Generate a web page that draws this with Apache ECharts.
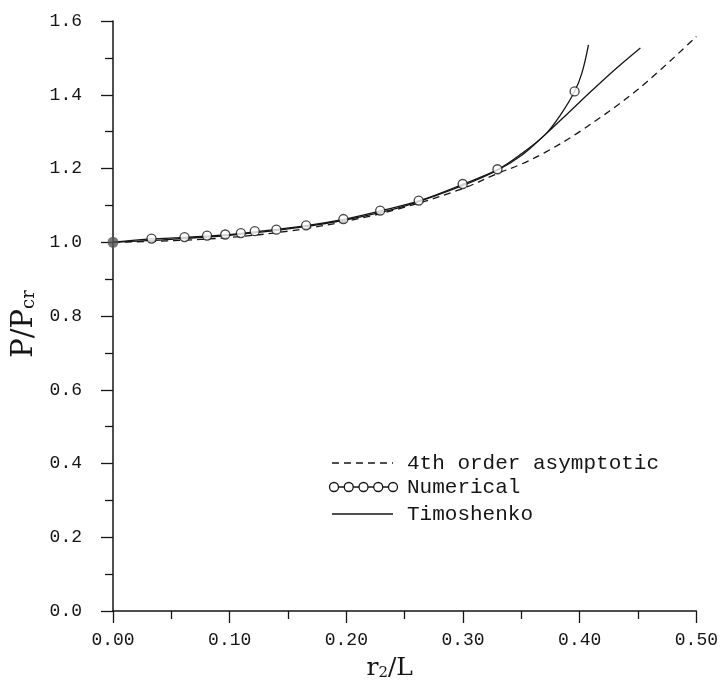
<!DOCTYPE html>
<html>
<head>
<meta charset="utf-8">
<script src="https://cdn.jsdelivr.net/npm/echarts@6/dist/echarts.min.js"></script>
<style>
  html, body { margin: 0; padding: 0; background: #fff; }
  #chart { width: 721px; height: 686px; }
</style>
</head>
<body>
<div id="chart"></div>
<script>
// Critical load ratio P/Pcr against r2/L

// 4th order asymptotic solution (dashed)
const asymX = [0, 0.05, 0.10, 0.15, 0.20, 0.25, 0.30, 0.33, 0.35, 0.37, 0.40, 0.45, 0.50];
const asymY = [1.000, 1.004, 1.013, 1.030, 1.057, 1.095, 1.146, 1.187, 1.212, 1.243, 1.300, 1.415, 1.558];

// Timoshenko solution (solid)
const timoX = [0, 0.05, 0.10, 0.15, 0.20, 0.25, 0.30, 0.33, 0.35, 0.3706, 0.39, 0.41, 0.43, 0.452];
const timoY = [1.000, 1.008, 1.019, 1.036, 1.061, 1.098, 1.154, 1.196, 1.235, 1.2925, 1.350, 1.410, 1.468, 1.527];

// Numerical solution: curve and computed points
const numCurveX = [0, 0.033, 0.0613, 0.0962, 0.1215, 0.1655, 0.1975, 0.229, 0.262, 0.2997, 0.3295, 0.35, 0.3706, 0.3834, 0.3956, 0.402, 0.4075];
const numCurveY = [1.000, 1.009, 1.013, 1.020, 1.028, 1.045, 1.062, 1.085, 1.112, 1.157, 1.197, 1.240, 1.2925, 1.345, 1.409, 1.460, 1.535];
const numPtX = [0.033, 0.0613, 0.0806, 0.0962, 0.1096, 0.1215, 0.140, 0.1655, 0.1975, 0.229, 0.262, 0.2997, 0.3295, 0.3956];
const numPtY = [1.010, 1.014, 1.018, 1.021, 1.025, 1.030, 1.034, 1.046, 1.063, 1.086, 1.113, 1.158, 1.198, 1.409];

// Starting point
const startX = [0];
const startY = [1.0];

// Axis ticks
const xTicks = { min: 0, max: 0.5, step: 0.1 };
const yTicks = { min: 0, max: 1.6, step: 0.2 };

const legendLabels = ['4th order asymptotic', 'Numerical', 'Timoshenko'];

const zip = (xs, ys) => xs.map((x, i) => [x, ys[i]]);

const INK = '#151515';
const MONO = '"Liberation Mono", "DejaVu Sans Mono", monospace';
const SERIF = '"DejaVu Serif", "Liberation Serif", serif';

const chart = echarts.init(document.getElementById('chart'), null, { renderer: 'canvas' });

const axisCommon = {
  axisLine: { show: true, onZero: false, lineStyle: { color: INK, width: 1.5 } },
  axisTick: { show: true, inside: false, length: 12, lineStyle: { color: INK, width: 1.3 } },
  minorTick: { show: true, splitNumber: 2, length: 8, lineStyle: { color: INK, width: 1.3 } },
  splitLine: { show: false },
  minorSplitLine: { show: false }
};

// Legend built from graphic primitives: sample line + label per row
const legendX0 = 332, legendX1 = 393, legendTextX = 407;
const legendRows = [463, 487, 514];
const legendGraphics = [];
legendGraphics.push({
  type: 'line', shape: { x1: legendX0, y1: legendRows[0], x2: legendX1, y2: legendRows[0] },
  style: { stroke: INK, lineWidth: 1.3, lineDash: [7, 5] }
});
legendGraphics.push({
  type: 'line', shape: { x1: legendX0, y1: legendRows[1], x2: legendX1, y2: legendRows[1] },
  style: { stroke: INK, lineWidth: 1.3 }
});
for (let k = 0; k < 5; k++) {
  legendGraphics.push({
    type: 'circle', shape: { cx: legendX0 + 2 + k * (legendX1 - legendX0 - 2) / 4, cy: legendRows[1], r: 4.5 },
    style: { fill: '#fff', stroke: INK, lineWidth: 1.3 }
  });
}
legendGraphics.push({
  type: 'line', shape: { x1: legendX0, y1: legendRows[2], x2: legendX1, y2: legendRows[2] },
  style: { stroke: INK, lineWidth: 1.3 }
});
legendLabels.forEach((t, i) => {
  legendGraphics.push({
    type: 'text', x: legendTextX, y: legendRows[i],
    style: { text: t, font: '21px ' + MONO, fill: INK, textVerticalAlign: 'middle', textAlign: 'left' }
  });
});

const lineCommon = { type: 'line', smooth: 0.35, showSymbol: false, symbol: 'none' };

const option = {
  backgroundColor: '#fff',
  animation: false,
  grid: { left: 113, right: 21, top: 21, bottom: 72, containLabel: false },
  xAxis: Object.assign({
    type: 'value',
    min: xTicks.min, max: xTicks.max, interval: xTicks.step,
    name: '{n|r}{s|2}{n|/L}',
    nameLocation: 'middle',
    nameGap: 40,
    nameTextStyle: {
      padding: [0, 30, 0, 0],
      rich: {
        n: { fontFamily: SERIF, fontSize: 25, color: INK, lineHeight: 30, verticalAlign: 'bottom' },
        s: { fontFamily: SERIF, fontSize: 15, color: INK, lineHeight: 19, verticalAlign: 'bottom' }
      }
    },
    axisLabel: {
      margin: 20, fontFamily: MONO, fontSize: 18, color: INK,
      formatter: v => v.toFixed(2)
    }
  }, axisCommon),
  yAxis: Object.assign({
    type: 'value',
    min: yTicks.min, max: yTicks.max, interval: yTicks.step,
    name: '{n|P/P}{s|cr}',
    nameLocation: 'middle',
    nameGap: 70,
    nameRotate: 90,
    nameTextStyle: {
      padding: [0, 16, 0, 0],
      rich: {
        n: { fontFamily: SERIF, fontSize: 29, color: INK, lineHeight: 33, verticalAlign: 'bottom' },
        s: { fontFamily: SERIF, fontSize: 18, color: INK, lineHeight: 22, verticalAlign: 'bottom' }
      }
    },
    axisLabel: {
      margin: 31, fontFamily: MONO, fontSize: 18, color: INK,
      formatter: v => v.toFixed(1)
    }
  }, axisCommon),
  graphic: legendGraphics,
  series: [
    Object.assign({
      name: legendLabels[0], data: zip(asymX, asymY),
      lineStyle: { color: INK, width: 1.3, type: [7, 5] }, z: 2
    }, lineCommon),
    Object.assign({
      name: legendLabels[2], data: zip(timoX, timoY),
      lineStyle: { color: INK, width: 1.3 }, z: 3
    }, lineCommon),
    Object.assign({
      name: legendLabels[1], data: zip(numCurveX, numCurveY),
      lineStyle: { color: INK, width: 1.3 }, z: 3
    }, lineCommon),
    {
      name: legendLabels[1] + ' points', type: 'scatter', data: zip(numPtX, numPtY),
      symbol: 'circle', symbolSize: 9,
      itemStyle: { color: '#fff', borderColor: INK, borderWidth: 1.3 }, z: 4
    },
    {
      name: 'start', type: 'scatter', data: zip(startX, startY),
      symbol: 'circle', symbolSize: 11,
      itemStyle: { color: '#555' }, z: 5
    }
  ]
};

chart.setOption(option);
</script>
</body>
</html>
